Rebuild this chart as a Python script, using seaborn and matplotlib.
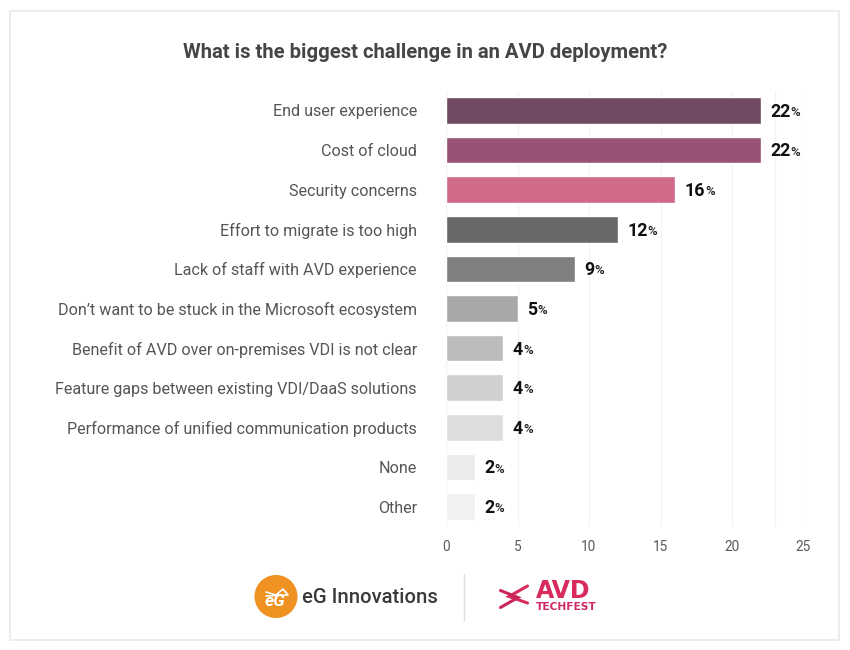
import matplotlib
matplotlib.use('Agg')
import matplotlib.pyplot as plt
import seaborn as sns
import pandas as pd
from matplotlib.patches import Rectangle, Circle

# chart data
categories = [
    'End user experience', 'Cost of cloud', 'Security concerns',
    'Effort to migrate is too high', 'Lack of staff with AVD experience',
    'Don’t want to be stuck in the Microsoft ecosystem',
    'Benefit of AVD over on-premises VDI is not clear',
    'Feature gaps between existing VDI/DaaS solutions',
    'Performance of unified communication products', 'None', 'Other',
]
values = [22, 22, 16, 12, 9, 5, 4, 4, 4, 2, 2]
bar_colors = ['#6f4a62', '#985277', '#cf6a88', '#686868', '#808080', '#a8a8a8',
              '#bcbcbc', '#d0d0d0', '#dedede', '#ebebeb', '#f1f1f1']
x_ticks = [0, 5, 10, 15, 20, 25]

sns.set_theme(style='white')
plt.rcParams['font.family'] = ['Roboto', 'DejaVu Sans']

W, H = 850, 650
fig = plt.figure(figsize=(8.5, 6.5), dpi=100, facecolor='white')

# overlay in pixel coords for card border and logos
bg = fig.add_axes([0, 0, 1, 1], zorder=0)
bg.set_xlim(0, W)
bg.set_ylim(H, 0)
bg.axis('off')
bg.add_patch(Rectangle((10.5, 10.5), 829, 629, fc='white', ec='#ececec', lw=1.3))

ax = fig.add_axes([446 / W, 1 - 526.5 / H, 357.5 / W, 436 / H], zorder=1)
ax.patch.set_alpha(0)
df = pd.DataFrame({'category': categories, 'value': values})
sns.barplot(data=df, x='value', y='category', hue='category', palette=bar_colors,
            legend=False, width=0.67, ax=ax, saturation=1, zorder=3)
ax.set_xlim(0, 25)
ax.set_xticks(x_ticks)
ax.set_xlabel('')
ax.set_ylabel('')
ax.grid(axis='x', color='#f3f3f3', lw=0.9, zorder=0)
ax.axvline(23.03, color='#f3f3f3', lw=0.9, zorder=0)
sns.despine(ax=ax, left=True, bottom=True, top=True, right=True)
ax.tick_params(axis='x', length=0, pad=9.5, labelsize=9.8, labelcolor='#5a5a5a')
ax.tick_params(axis='y', length=0, pad=21, labelsize=11.6, labelcolor='#555555')

# value labels: bold number with a smaller percent sign after it
for i, v in enumerate(values):
    t = ax.annotate(str(v), (v, i), xytext=(7, -1), textcoords='offset points',
                    va='center', ha='left', fontsize=12.8, fontweight='bold', color='#111111')
    ax.annotate('%', xy=(1, 0.5), xycoords=t, xytext=(0, -0.5), textcoords='offset points',
                va='center', ha='left', fontsize=9.5, fontweight='medium', color='#222222')

fig.text(425.5 / W, 1 - 52 / H, 'What is the biggest challenge in an AVD deployment?',
         ha='center', va='center', fontsize=14.6, fontweight='bold', color='#454545')

# eG logo
bg.add_patch(Circle((276, 596.5), 21.5, fc='#ef9222', ec='none'))
bg.text(275, 602, 'eG', ha='center', va='center', fontsize=12.5, color='white',
        fontstyle='italic', fontweight='bold')
bg.plot([266, 276, 283, 288, 266], [592, 595, 589, 595, 596], color='white', lw=1.2)
bg.text(302, 597.5, 'eG Innovations', ha='left', va='center', fontsize=14.6,
        fontweight='medium', color='#3a3a3a')
bg.plot([464.5, 464.5], [574, 620], color='#dddddd', lw=1)

# AVD logo
pink = '#d92a5c'
bg.plot([527.5, 509, 527.5], [586, 596.5, 603], color=pink, lw=2.2, solid_joinstyle='miter')
bg.plot([500.5, 518, 500.5], [590.5, 597.5, 607.5], color='#c9265a', lw=2.2, solid_joinstyle='miter')
bg.text(535.5, 590.5, 'AVD', ha='left', va='center', fontsize=17, fontweight='bold',
        color=pink, family=['DejaVu Sans'])
bg.text(535.5, 607, 'TECHFEST', ha='left', va='center', fontsize=7.7, fontweight='bold',
        color='#cf2a68', family=['DejaVu Sans'])

fig.savefig('out.png', dpi=100)
